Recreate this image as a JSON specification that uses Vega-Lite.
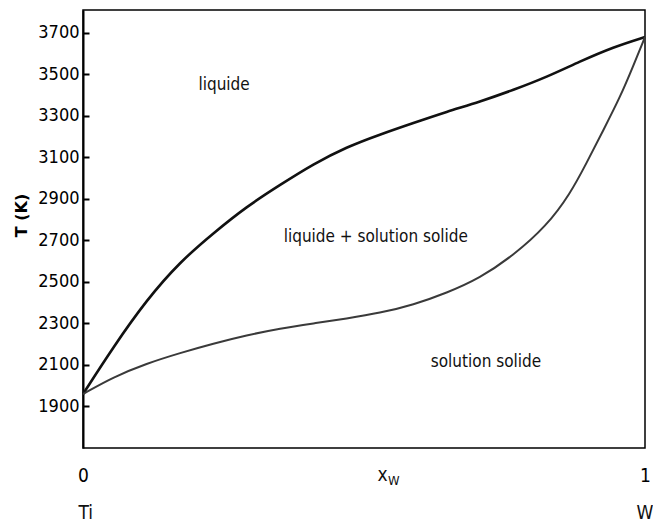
{
  "$schema": "https://vega.github.io/schema/vega-lite/v6.json",
  "width": 562,
  "height": 438,
  "autosize": "none",
  "padding": {"left": 83, "top": 10, "right": 8, "bottom": 81},
  "background": "white",
  "config": {
    "view": {"stroke": "black", "strokeWidth": 1.5},
    "font": "DejaVu Sans Condensed, Liberation Sans Narrow, Roboto Condensed, Noto Sans, sans-serif"
  },
  "datasets": {
    "liquidus": [
      {"x": 0, "T": 1960}, {"x": 0.054, "T": 2187}, {"x": 0.113, "T": 2413},
      {"x": 0.173, "T": 2598}, {"x": 0.232, "T": 2735}, {"x": 0.291, "T": 2863},
      {"x": 0.351, "T": 2968}, {"x": 0.41, "T": 3068}, {"x": 0.469, "T": 3150},
      {"x": 0.528, "T": 3210}, {"x": 0.588, "T": 3266}, {"x": 0.647, "T": 3320},
      {"x": 0.706, "T": 3368}, {"x": 0.766, "T": 3425}, {"x": 0.825, "T": 3487},
      {"x": 0.884, "T": 3562}, {"x": 0.944, "T": 3632}, {"x": 1, "T": 3680}
    ],
    "solidus": [
      {"x": 0, "T": 1960}, {"x": 0.054, "T": 2042}, {"x": 0.113, "T": 2107},
      {"x": 0.173, "T": 2158}, {"x": 0.232, "T": 2203}, {"x": 0.291, "T": 2243},
      {"x": 0.351, "T": 2276}, {"x": 0.41, "T": 2300}, {"x": 0.469, "T": 2324},
      {"x": 0.528, "T": 2350}, {"x": 0.588, "T": 2390}, {"x": 0.647, "T": 2447},
      {"x": 0.706, "T": 2518}, {"x": 0.766, "T": 2628}, {"x": 0.825, "T": 2770},
      {"x": 0.867, "T": 2925}, {"x": 0.896, "T": 3073}, {"x": 0.926, "T": 3232},
      {"x": 0.956, "T": 3392}, {"x": 0.979, "T": 3540}, {"x": 1, "T": 3680}
    ],
    "labels": [
      {"x": 0.251, "T": 3451, "label": "liquide"},
      {"x": 0.521, "T": 2717, "label": "liquide + solution solide"},
      {"x": 0.717, "T": 2113, "label": "solution solide"}
    ],
    "ends": [
      {"x": 0.005, "T": 1387, "label": "Ti"},
      {"x": 1.0, "T": 1387, "label": "W"}
    ],
    "xmain": [{"x": 0.533, "T": 1572, "label": "x"}],
    "xsub": [{"x": 0.553, "T": 1543, "label": "W"}]
  },
  "encoding": {
    "x": {
      "field": "x", "type": "quantitative",
      "scale": {"domain": [0, 1], "nice": false, "zero": false},
      "axis": {
        "values": [0, 1], "format": "d", "title": null, "grid": false,
        "ticks": false, "domain": false, "labelFontSize": 19,
        "labelColor": "black", "labelPadding": 18, "labelFlush": false
      }
    },
    "y": {
      "field": "T", "type": "quantitative",
      "scale": {"domain": [1700, 3810], "nice": false, "zero": false},
      "axis": {
        "values": [1900, 2100, 2300, 2500, 2700, 2900, 3100, 3300, 3500, 3700],
        "format": "d",
        "title": "T   (K)", "grid": false, "tickSize": -6, "tickWidth": 2,
        "tickColor": "black", "domain": true, "domainColor": "black", "domainWidth": 2,
        "labelFontSize": 18, "labelColor": "black", "labelPadding": 10,
        "titleFont": "DejaVu Sans", "titleFontWeight": "bold", "titleFontSize": 16,
        "titleColor": "black", "titlePadding": 8, "titleY": 205
      }
    }
  },
  "layer": [
    {
      "data": {"name": "liquidus"},
      "mark": {"type": "line", "color": "#111111", "strokeWidth": 2.6, "interpolate": "basis"}
    },
    {
      "data": {"name": "solidus"},
      "mark": {"type": "line", "color": "#3a3a3a", "strokeWidth": 2, "interpolate": "basis"}
    },
    {
      "data": {"name": "labels"},
      "mark": {"type": "text", "fontSize": 17, "color": "#111111", "align": "center", "baseline": "middle"},
      "encoding": {"text": {"field": "label"}}
    },
    {
      "data": {"name": "ends"},
      "mark": {"type": "text", "fontSize": 19, "color": "#111111", "align": "center", "baseline": "middle"},
      "encoding": {"text": {"field": "label"}}
    },
    {
      "data": {"name": "xmain"},
      "mark": {"type": "text", "fontSize": 19, "color": "#111111", "align": "center", "baseline": "middle"},
      "encoding": {"text": {"field": "label"}}
    },
    {
      "data": {"name": "xsub"},
      "mark": {"type": "text", "fontSize": 13, "color": "#111111", "align": "center", "baseline": "middle"},
      "encoding": {"text": {"field": "label"}}
    }
  ]
}
